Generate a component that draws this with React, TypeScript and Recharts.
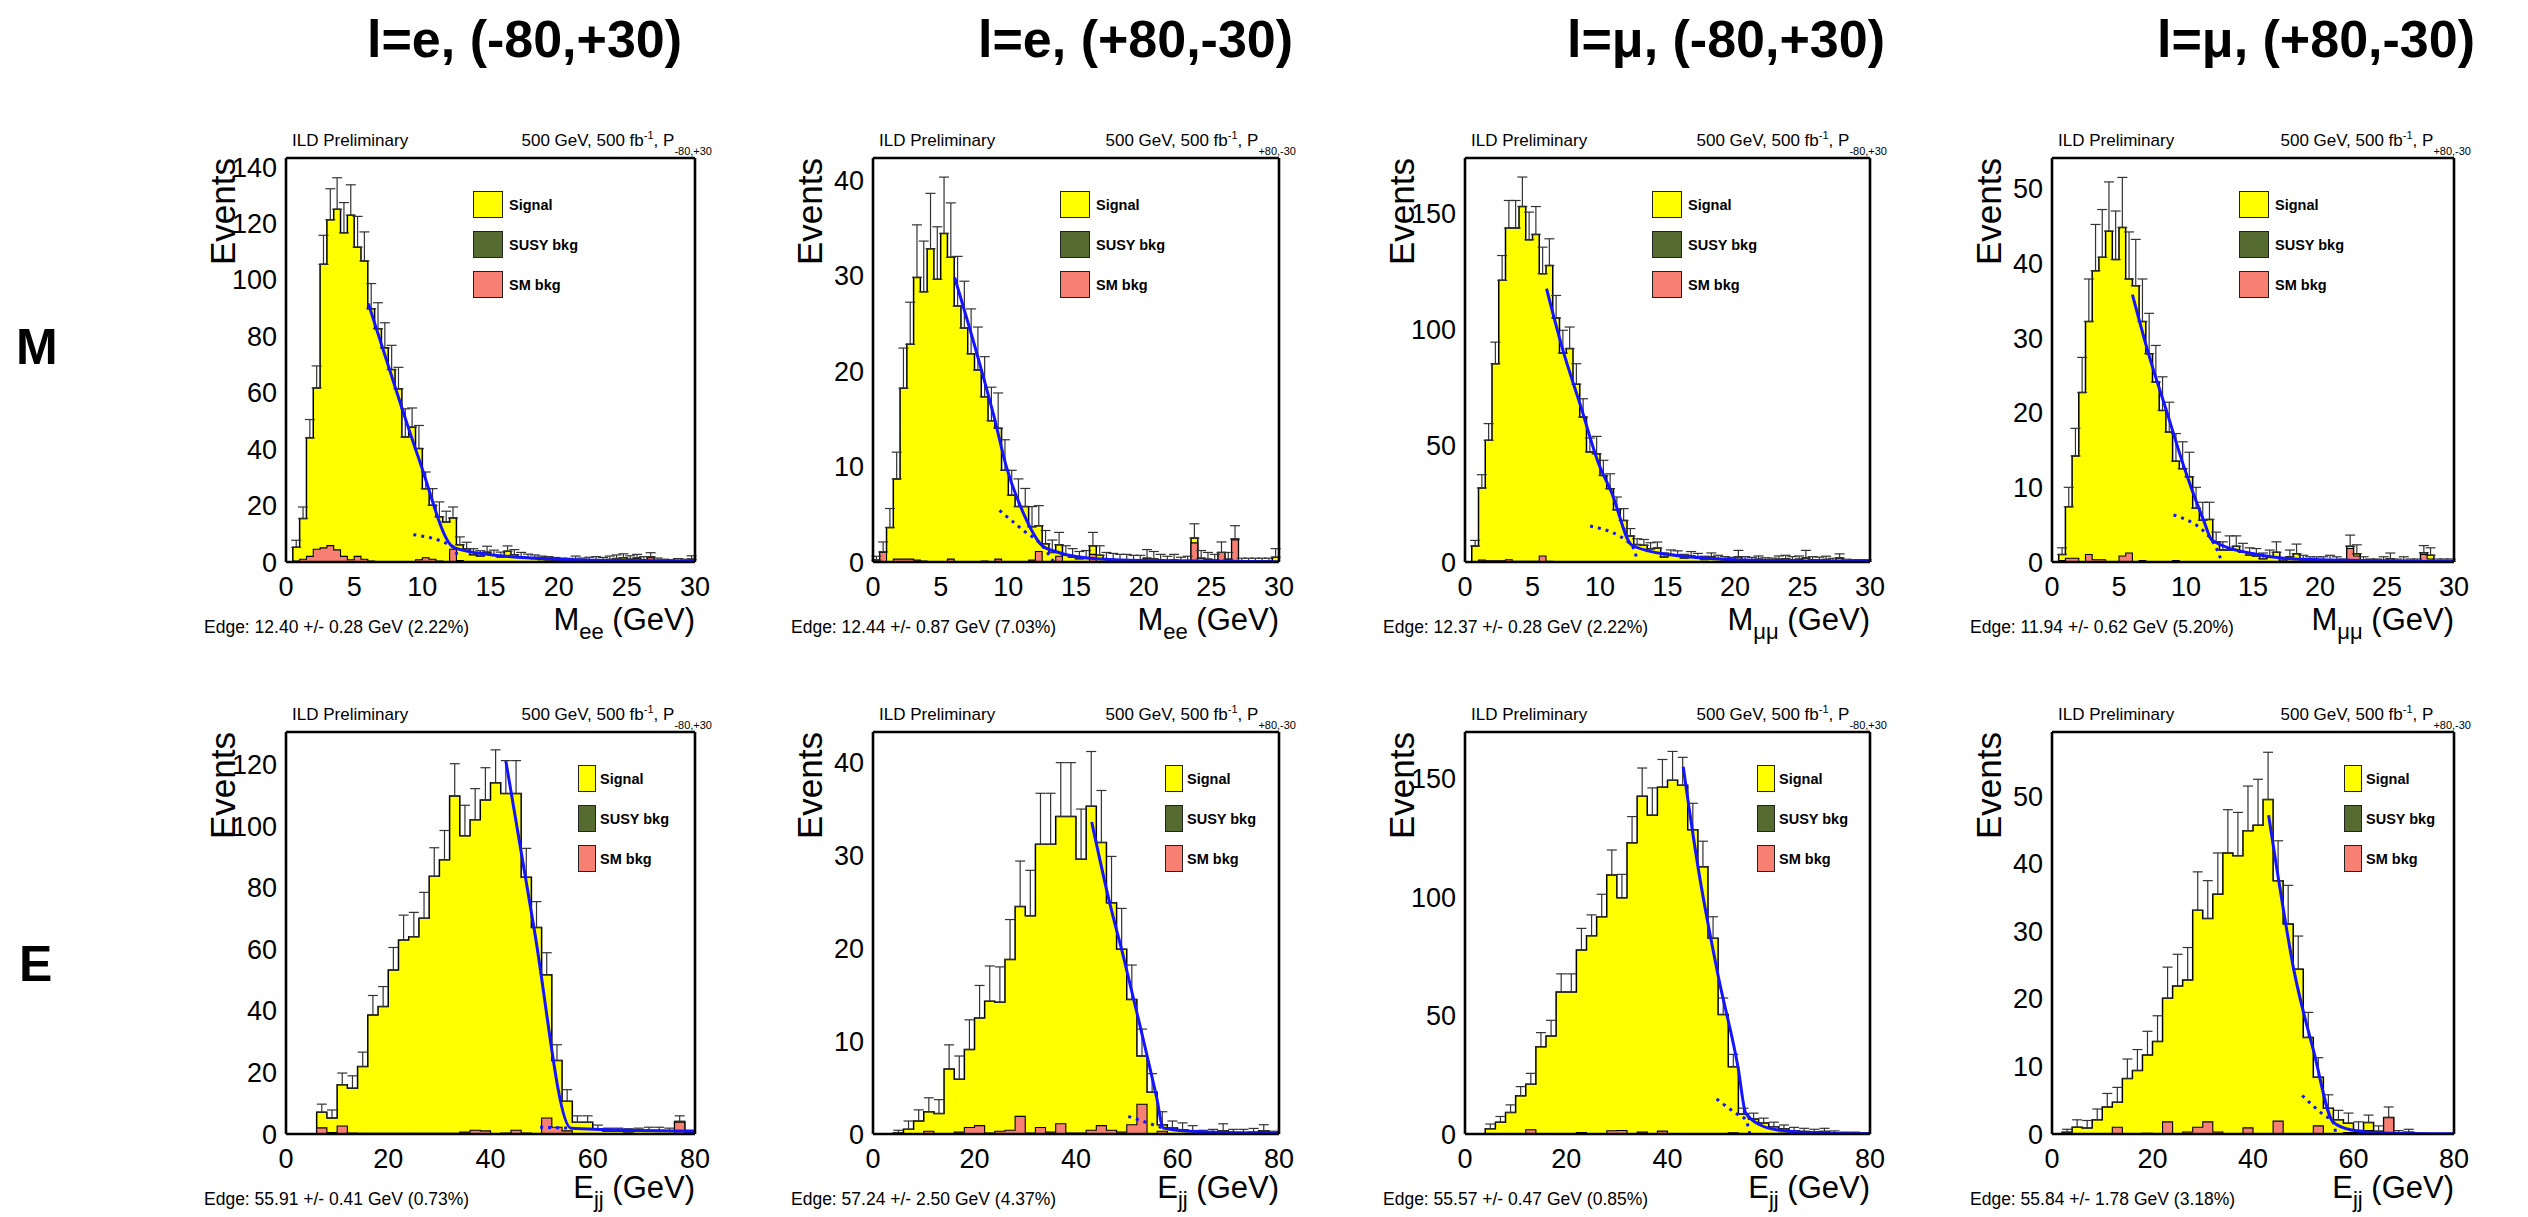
import React from "react";
import { ComposedChart, Area, Line, Scatter, ErrorBar, XAxis, YAxis } from "recharts";

// ---------- axis ticks ----------
const M_TICKS = [0, 5, 10, 15, 20, 25, 30];
const E_TICKS = [0, 20, 40, 60, 80];
const Y_140 = [0, 20, 40, 60, 80, 100, 120, 140];
const Y_120 = [0, 20, 40, 60, 80, 100, 120];
const Y_40 = [0, 10, 20, 30, 40];
const Y_50 = [0, 10, 20, 30, 40, 50];
const Y_150 = [0, 50, 100, 150];

// ---------- M panels: 60 bins of 0.5 GeV (stack top, SM bkg, error bar top) ----------
const mee_m80_total = [
  0, 5.2, 15.4, 44, 61.7, 105.5, 121.3, 125, 116.7, 122.9,
  111.6, 106.7, 89.8, 82.7, 75.9, 68.2, 61.4, 44.3, 47.8, 40.2,
  26, 20.1, 16, 14.2, 15.6, 6.1, 4.7, 2.6, 2.1, 3.5,
  2.4, 1.8, 3.8, 2.6, 1.8, 1.4, 1.2, 0.9, 0.8, 0.6,
  0.5, 0.4, 0.9, 0.5, 0.7, 0.8, 0.6, 0.9, 1.2, 1.5,
  1.0, 1.4, 0.8, 1.8, 0.5, 0.3, 0.2, 0.4, 0.3, 1.0,
];
const mee_m80_sm = [
  0, 0.3, 1.0, 2.0, 4.5, 5.0, 5.8, 4.3, 2.0, 0.8,
  2.0, 1.0, 0.3, 0, 0, 0, 0, 0, 0, 0.8,
  1.5, 1.0, 0.3, 0, 4.5, 0.5, 0, 0, 0, 0,
  0, 0, 0, 0, 0, 0, 0, 0, 0, 0,
  0, 0, 0, 0, 0, 0, 0, 0, 0, 0,
  0, 1.2, 0, 1.5, 0, 0, 0, 0, 0, 0,
];
const mee_m80_err = [
  null, 7.7, 19.5, 50.5, 69.5, 115.8, 132.3, 136.2, 127.4, 133.7,
  122.5, 117, 98.7, 91.9, 84.8, 76.8, 69, 54.3, 54.6, 48.4,
  31.9, 26, 21.3, 18, 19.5, 8.9, 7, 4.7, 4.0, 5.6,
  4.2, 3.5, 5.7, 4.4, 3.4, 2.8, 2.5, 2.1, 1.9, 1.6,
  1.4, 1.3, 2.1, 1.4, 1.7, 1.9, 1.6, 2.1, 2.5, 2.9,
  2.2, 2.7, 1.9, 3.3, 1.4, 1.0, 0.8, 1.2, 1.0, 2.2,
];
const mee_m80_fit = [[6.04, 91.6], [8.36, 56.7], [9.83, 35.4], [12.32, 5.1], [15, 2.6], [20, 1.0], [25, 0.5], [30, 0.25]];
const mee_m80_bkg = [[9.34, 9.7], [12.27, 5.3], [12.64, 1.2]];

const mee_p80_total = [
  0.2, 1.05, 3.6, 8.7, 18.2, 22.8, 29.8, 28.3, 32.8, 29.6,
  34.4, 31.9, 26.8, 24.5, 21.8, 20.1, 17.3, 14.8, 14.0, 9.6,
  7.0, 5.8, 5.8, 3.7, 3.8, 1.9, 1.0, 1.8, 0.7, 0.5,
  0.35, 0.4, 1.7, 0.7, 0.3, 0.25, 0.2, 0.2, 0.15, 0.15,
  0.4, 0.35, 0.2, 0.15, 0.2, 0.1, 0.15, 2.5, 0.4, 0.3,
  0.2, 1.0, 0.3, 2.4, 0.1, 0.1, 0.1, 0.1, 0.1, 0.5,
];
const mee_p80_sm = [
  0, 1.0, 0, 0.3, 0.3, 0.3, 0.2, 0.1, 0, 0,
  0, 0.3, 0, 0, 0, 0, 0.1, 0, 0.3, 0,
  0, 0, 0, 0.2, 1.1, 0, 0, 0.6, 0, 0,
  0, 0, 0.8, 0, 0, 0, 0, 0, 0, 0,
  0, 0, 0, 0, 0, 0, 0, 2.0, 0, 0,
  0, 1.0, 0, 2.3, 0, 0, 0, 0, 0, 0,
];
const mee_p80_err = [
  0.6, 2.1, 5.6, 11.5, 22.4, 27.2, 35.3, 33.6, 38.6, 35.1,
  40.3, 37.6, 32, 29.4, 26.5, 24.6, 21.5, 18.3, 17.7, 12.8,
  9.6, 8.7, 7.7, 5.8, 5.9, 3.3, 2.3, 3.1, 1.7, 1.4,
  1.1, 1.2, 3.1, 1.7, 1.0, 0.9, 0.8, 0.8, 0.7, 0.7,
  1.3, 1.1, 0.8, 0.6, 0.8, 0.5, 0.6, 4.0, 1.2, 1.0,
  0.8, 2.1, 1.0, 3.8, 0.4, 0.4, 0.4, 0.4, 0.4, 1.4,
];
const mee_p80_fit = [[6.03, 29.8], [7.68, 21.8], [8.91, 15.4], [9.89, 9.8], [11.12, 5.1], [12.48, 1.75], [13.6, 1.05], [16, 0.4], [20, 0.15], [30, 0.03]];
const mee_p80_bkg = [[9.35, 5.4], [11.12, 3.3], [12.48, 1.75], [13.34, 0]];

const mmm_m80_total = [
  0, 6.9, 31.9, 52.4, 85.4, 121.3, 143.8, 143.8, 153.1, 138.8,
  141.1, 124.2, 127.7, 105.1, 90, 91.9, 76.6, 62.4, 47.4, 46.6,
  37.3, 31.6, 22.5, 17.9, 11.2, 7.5, 7.2, 5.7, 6.0, 2.2,
  3.2, 2.9, 1.7, 2.6, 2.0, 1.1, 2.2, 1.4, 1.0, 0.8,
  2.2, 1.0, 0.8, 1.2, 0.7, 0.6, 1.2, 1.4, 1.0, 1.2,
  1.7, 1.0, 0.9, 1.1, 0.6, 1.7, 0.4, 0.3, 0.3, 0.3,
];
const mmm_m80_sm = [
  0, 0, 0.8, 0.5, 0.5, 0.5, 1.0, 0.3, 0.3, 0.3,
  0.3, 2.6, 0.3, 0, 0, 0, 0, 0, 0, 0,
  0, 0, 0, 0, 0, 0, 0, 0, 0, 0,
  0, 0, 0, 0, 0, 0, 0, 0, 0, 0,
  0, 0, 0, 0, 0, 0, 0, 0, 0, 0,
  0, 0, 0, 0, 0, 1.5, 0, 0, 0, 0,
];
const mmm_m80_err = [
  null, 9.3, 37.6, 59.6, 94.7, 132, 155.7, 155.7, 165.8, 150.7,
  153.1, 135.6, 139.2, 114.8, 99.8, 101.2, 85.4, 70.3, 53.4, 54.1,
  43.8, 38, 28, 23, 14.4, 10, 9.7, 8.3, 8.6, 3.9,
  5.2, 4.8, 3.3, 4.5, 3.7, 2.5, 3.9, 2.9, 2.3, 2,
  5, 2.3, 2.0, 2.6, 1.8, 1.7, 2.6, 2.9, 2.3, 2.6,
  5.0, 2.3, 2.1, 2.5, 1.6, 3.5, 1.2, 1.0, 1.0, 1.0,
];
const mmm_m80_fit = [[6.04, 117.7], [7.15, 93.3], [8.63, 66], [9.86, 43], [10.85, 30.1], [12.37, 7.2], [15.04, 3.2], [20, 1.0], [25, 0.45], [30, 0.2]];
const mmm_m80_bkg = [[9.27, 15.5], [12.32, 7.5], [12.8, 0]];

const mmm_p80_total = [
  0, 1.0, 7.4, 14.2, 22.7, 32.2, 39.0, 40.8, 44.3, 40.5,
  44.8, 37.9, 37.0, 32.2, 27.9, 24.1, 20.3, 17.4, 13.5, 12.5,
  11.4, 7.2, 5.6, 5.7, 2.7, 1.6, 1.6, 2.1, 1.3, 0.9,
  0.8, 0.45, 0.7, 1.3, 0.1, 0.7, 1.1, 0.3, 0.2, 0.2,
  0.2, 0.3, 0.2, 0.1, 2.1, 1.1, 0.2, 0.1, 0.1, 0.2,
  0.45, 0.1, 0.2, 0.1, 0.1, 1.25, 0.9, 0.1, 0.1, 0.1,
];
const mmm_p80_sm = [
  0, 0.2, 0.5, 0.5, 0, 1.0, 0.3, 0.3, 0, 0,
  0.8, 1.2, 0, 0.2, 0, 0, 0, 0, 0.2, 0,
  0, 0, 0, 0, 0, 0, 0, 0, 0, 0,
  0, 0, 0, 0, 0, 0, 0, 0, 0, 0,
  0, 0, 0, 0, 1.8, 0.8, 0, 0, 0, 0,
  0, 0, 0, 0, 0, 1.0, 0.4, 0, 0, 0,
];
const mmm_p80_err = [
  null, 1.9, 10, 17.9, 27.4, 37.9, 45.2, 47.2, 50.9, 47,
  51.5, 44.2, 43.2, 37.9, 33.3, 29, 24.8, 21.4, 17.2, 16.1,
  14.7, 10, 8, 8, 4, 2.7, 3.5, 3.5, 2.5, 1.9,
  1.8, 1.2, 1.6, 2.7, 0.4, 1.6, 2.4, 0.9, 0.7, 0.7,
  0.7, 0.9, 0.7, 0.4, 3.6, 2.3, 0.7, 0.4, 0.4, 0.7,
  1.2, 0.4, 0.7, 0.4, 0.4, 2.2, 1.9, 0.4, 0.4, 0.4,
];
const mmm_p80_fit = [[6.0, 35.8], [7.2, 27.9], [8.57, 20.1], [9.82, 12.9], [11.31, 5.6], [11.94, 2.9], [15.05, 1.1], [18.5, 0.36], [30, 0.05]];
const mmm_p80_bkg = [[9.07, 6.3], [11.94, 2.9], [12.68, 0]];

// ---------- E panels: 40 bins of 2 GeV ----------
const ejj_e_m80_total = [
  0, 0, 0, 7.1, 5.2, 16, 14.9, 21.9, 38.7, 41.4,
  53.3, 63, 64.1, 70.1, 83.7, 89.1, 109.8, 96.9, 102.1, 108.5,
  114.1, 110.6, 110.6, 83.4, 67.1, 51.7, 23.9, 10.6, 3.8, 3.8,
  1.6, 0.9, 0.9, 0.7, 0.9, 1.1, 1.1, 0.9, 4.1, 0.5,
];
const ejj_e_m80_sm = [
  0, 0, 0, 2.0, 0.5, 2.6, 0.3, 0.2, 0.2, 0.2,
  0.2, 0.2, 0.2, 0.2, 0.2, 0.2, 0.2, 0.6, 1.2, 1.0,
  0.1, 0.3, 1.2, 0.3, 0, 5.2, 2.2, 1.0, 0, 0,
  0, 0, 0, 0, 0, 0, 0, 0, 3.8, 0,
];
const ejj_e_m80_err = [
  null, null, null, 9.7, 7.8, 19.8, 18.9, 26.6, 45, 47.9,
  60.6, 71.1, 72, 78.5, 93, 98.6, 120.3, 106.8, 112.2, 119,
  124.8, 121.3, 121.3, 92.8, 75.5, 58.9, 29, 14.4, 5.9, 5.9,
  2.9, 1.9, 1.9, 1.7, 1.9, 2.2, 2.2, 1.9, 5.9, 1.2,
];
const ejj_e_m80_fit = [[43.0, 121.2], [48.4, 68], [55.74, 1.9], [80, 0.9]];
const ejj_e_m80_bkg = [[49.7, 2.2], [55.7, 1.9]];

const ejj_e_p80_total = [
  0, 0, 0.1, 0.5, 1.4, 2.4, 2.2, 7.0, 5.9, 9.1,
  12.5, 14.3, 14.2, 18.8, 24.5, 23.5, 31.2, 31.2, 34.2, 34.2,
  29.6, 35.3, 31.4, 24.9, 19.9, 14.5, 8.4, 4.5, 1.0, 0.65,
  0.45, 0.3, 0.1, 0.15, 0.35, 0.15, 0.15, 0.2, 0.35, 0.1,
];
const ejj_e_p80_sm = [
  0, 0, 0, 0, 0, 0.3, 0, 0, 0.2, 0.7,
  0.9, 0.1, 0.3, 0.4, 1.9, 0.1, 0.7, 0.2, 1.1, 0.1,
  0.1, 0.4, 0.9, 0.4, 0.2, 1.0, 3.2, 0, 0.3, 0,
  0, 0, 0, 0, 0, 0, 0, 0, 0.3, 0,
];
const ejj_e_p80_err = [
  null, null, 0.4, 1.4, 2.6, 3.9, 3.7, 9.6, 8.4, 12.3,
  16, 18.1, 18, 23.1, 29.4, 28.4, 36.7, 36.7, 40, 40,
  35, 41.2, 37, 29.9, 24.3, 18.2, 11.3, 6.5, 2.4, 1.4,
  1.2, 0.9, 0.4, 0.5, 1.1, 0.5, 0.5, 0.6, 1.0, 0.3,
];
const ejj_e_p80_fit = [[43.1, 33.6], [46.7, 24.75], [49.3, 19.2], [52.6, 11.7], [55.9, 3.9], [57.2, 0.64], [62.5, 0.3], [80, 0.07]];
const ejj_e_p80_bkg = [[50.3, 1.9], [55.2, 1.0], [57.2, 0.64]];

const ejj_m_m80_total = [
  0, 0, 2.2, 5.0, 9.1, 16.1, 21.0, 36.8, 41.4, 59.9,
  59.9, 77.7, 83.7, 91.7, 109.3, 99.7, 122.9, 142.6, 134.6, 146.4,
  149.3, 147.2, 128.4, 112.8, 82.6, 50.4, 28.4, 8.4, 6.3, 4.6,
  3.1, 2.2, 1.4, 1.1, 0.8, 1.1, 0.4, 0.2, 0.2, 0.1,
];
const ejj_m_m80_sm = [
  0, 0, 0, 0, 0, 0, 1.8, 0, 0, 0,
  0, 0.6, 0, 0, 1.4, 1.5, 0, 0.8, 0, 1.2,
  0, 0, 0, 0, 0, 0, 0.5, 0, 0, 0,
  0, 0.3, 0, 0, 0, 0, 0, 0, 0, 0,
];
const ejj_m_m80_err = [
  null, null, 4.2, 7.4, 12.3, 20, 25.6, 42.8, 48, 67.6,
  67.6, 86.8, 92.5, 101.2, 119.9, 109.6, 134, 154.5, 146.1, 158.1,
  161.5, 159, 139.6, 123.6, 91.7, 57.4, 33.6, 10.9, 8.8, 6.7,
  5.0, 3.8, 2.8, 2.4, 2.0, 2.4, 1.3, 0.8, 0.8, 0.5,
];
const ejj_m_m80_fit = [[43.1, 155], [46.05, 112.4], [50, 66.9], [53.95, 28], [55.46, 8.8], [58.55, 3.6], [61.8, 1.7], [68.4, 0.56], [80, 0.1]];
const ejj_m_m80_bkg = [[49.7, 14.8], [53.95, 8.1], [55.46, 6], [56.25, 0]];

const ejj_m_p80_total = [
  0, 0.25, 1.0, 0.9, 2.1, 4.0, 4.7, 8.2, 9.4, 11.7,
  13.7, 20.1, 21.9, 22.8, 33.1, 31.9, 35.5, 41.6, 41.2, 44.9,
  45.7, 49.5, 37.5, 31.1, 24.4, 14.3, 8.4, 3.8, 2.1, 1.6,
  0.5, 1.7, 0.4, 2.45, 0.1, 0.25, 0, 0, 0, 0,
];
const ejj_m_p80_sm = [
  0, 0, 0, 0, 0, 0, 1.0, 0, 0, 0.1,
  0, 1.8, 0, 0.3, 1.0, 1.8, 0.3, 0, 0, 0.9,
  0, 0, 1.9, 0, 0, 0, 1.2, 0, 0, 0.2,
  0.2, 0.5, 0, 2.4, 0, 0, 0, 0, 0, 0,
];
const ejj_m_p80_err = [
  null, 0.7, 2.1, 2.0, 3.7, 6.0, 6.9, 11.1, 12.5, 15.2,
  17.5, 24.7, 26.6, 27.6, 38.8, 37.5, 41.6, 48, 47.6, 51.5,
  52.5, 56.5, 43.4, 36.8, 29.3, 18, 11.3, 5.8, 3.5, 3.1,
  1.8, 2.8, 1.2, 4.0, 0.5, 0.7, null, null, null, null,
];
const ejj_m_p80_fit = [[43.1, 47.2], [45.1, 37.6], [48.1, 24.4], [52.1, 12.2], [55.95, 1.76], [59.4, 0.64], [66, 0.15], [80, 0.02]];
const ejj_m_p80_bkg = [[49.8, 5.7], [54.1, 2.8], [55.95, 1.76], [56.5, 0]];

const COL_TITLES = ["l=e, (-80,+30)", "l=e, (+80,-30)", "l=μ, (-80,+30)", "l=μ, (+80,-30)"];
const POLS = ["-80,+30", "+80,-30", "-80,+30", "+80,-30"];
const EDGES = [
  "Edge: 12.40 +/- 0.28 GeV (2.22%)", "Edge: 12.44 +/- 0.87 GeV (7.03%)",
  "Edge: 12.37 +/- 0.28 GeV (2.22%)", "Edge: 11.94 +/- 0.62 GeV (5.20%)",
  "Edge: 55.91 +/- 0.41 GeV (0.73%)", "Edge: 57.24 +/- 2.50 GeV (4.37%)",
  "Edge: 55.57 +/- 0.47 GeV (0.85%)", "Edge: 55.84 +/- 1.78 GeV (3.18%)",
];

// ---------- layout ----------
const COL_X = [286, 873, 1465, 2052];
const COL_W = [409, 406, 405, 402];
const ROW_Y = [158, 732];
const ROW_H = [404, 402];
const TITLE_X = [367, 978, 1567, 2157];

const YELLOW = "#ffff00";
const SALMON = "#f88072";
const OLIVE = "#556b2f";
const BLUE = "#1414ff";
const FONT = '"Liberation Sans", Arial, Helvetica, sans-serif';

type Pt = number[];
interface Cfg {
  col: number; row: number; binW: number; xMax: number; xTicks: number[]; xMinor: number;
  yMax: number; yTicks: number[]; yMinor: number;
  total: number[]; sm: number[]; err: (number | null)[]; fit: Pt[]; bkg: Pt[];
  sub: string; edge: string;
}

const steps = (max: number, step: number) =>
  Array.from({ length: Math.floor(max / step + 1e-6) + 1 }, (_, i) => +(i * step).toFixed(3));

const PANELS: Cfg[] = [
  { col: 0, row: 0, binW: 0.5, xMax: 30, xTicks: M_TICKS, xMinor: 1, yMax: 143.2, yTicks: Y_140, yMinor: 5, total: mee_m80_total, sm: mee_m80_sm, err: mee_m80_err, fit: mee_m80_fit, bkg: mee_m80_bkg, sub: "ee", edge: EDGES[0] },
  { col: 1, row: 0, binW: 0.5, xMax: 30, xTicks: M_TICKS, xMinor: 1, yMax: 42.3, yTicks: Y_40, yMinor: 2, total: mee_p80_total, sm: mee_p80_sm, err: mee_p80_err, fit: mee_p80_fit, bkg: mee_p80_bkg, sub: "ee", edge: EDGES[1] },
  { col: 2, row: 0, binW: 0.5, xMax: 30, xTicks: M_TICKS, xMinor: 1, yMax: 174, yTicks: Y_150, yMinor: 10, total: mmm_m80_total, sm: mmm_m80_sm, err: mmm_m80_err, fit: mmm_m80_fit, bkg: mmm_m80_bkg, sub: "μμ", edge: EDGES[2] },
  { col: 3, row: 0, binW: 0.5, xMax: 30, xTicks: M_TICKS, xMinor: 1, yMax: 54.1, yTicks: Y_50, yMinor: 2, total: mmm_p80_total, sm: mmm_p80_sm, err: mmm_p80_err, fit: mmm_p80_fit, bkg: mmm_p80_bkg, sub: "μμ", edge: EDGES[3] },
  { col: 0, row: 1, binW: 2, xMax: 80, xTicks: E_TICKS, xMinor: 4, yMax: 130.6, yTicks: Y_120, yMinor: 5, total: ejj_e_m80_total, sm: ejj_e_m80_sm, err: ejj_e_m80_err, fit: ejj_e_m80_fit, bkg: ejj_e_m80_bkg, sub: "jj", edge: EDGES[4] },
  { col: 1, row: 1, binW: 2, xMax: 80, xTicks: E_TICKS, xMinor: 4, yMax: 43.3, yTicks: Y_40, yMinor: 2, total: ejj_e_p80_total, sm: ejj_e_p80_sm, err: ejj_e_p80_err, fit: ejj_e_p80_fit, bkg: ejj_e_p80_bkg, sub: "jj", edge: EDGES[5] },
  { col: 2, row: 1, binW: 2, xMax: 80, xTicks: E_TICKS, xMinor: 4, yMax: 169.7, yTicks: Y_150, yMinor: 10, total: ejj_m_m80_total, sm: ejj_m_m80_sm, err: ejj_m_m80_err, fit: ejj_m_m80_fit, bkg: ejj_m_m80_bkg, sub: "jj", edge: EDGES[6] },
  { col: 3, row: 1, binW: 2, xMax: 80, xTicks: E_TICKS, xMinor: 4, yMax: 59.5, yTicks: Y_50, yMinor: 2, total: ejj_m_p80_total, sm: ejj_m_p80_sm, err: ejj_m_p80_err, fit: ejj_m_p80_fit, bkg: ejj_m_p80_bkg, sub: "jj", edge: EDGES[7] },
];

function histRows(binW: number, total: number[], sm: number[]) {
  const rows = total.map((t, i) => ({ x: i * binW, total: t, sm: sm[i] }));
  rows.push({ x: total.length * binW, total: total[total.length - 1], sm: sm[sm.length - 1] });
  return rows;
}

function errRows(binW: number, total: number[], err: (number | null)[]) {
  const out: { x: number; y: number; err: number[] }[] = [];
  total.forEach((t, i) => {
    const e = err[i];
    if (e != null && e > t) out.push({ x: (i + 0.5) * binW, y: t, err: [0, e - t] });
  });
  return out;
}

const toXY = (pts: Pt[]) => pts.map(([x, y]) => ({ x, y }));

const noShape = () => <g />;

const M_LEFT = 90, M_TOP = 12, M_RIGHT = 34, M_BOTTOM = 50;

function Histo({ p }: { p: Cfg }) {
  const px = COL_X[p.col], py = ROW_Y[p.row], pw = COL_W[p.col], ph = ROW_H[p.row];
  const rows = histRows(p.binW, p.total, p.sm);
  const errs = errRows(p.binW, p.total, p.err);
  const xDom = [0, p.xMax];
  const yDom = [0, p.yMax];
  const xMin = steps(p.xMax, p.xMinor);
  const yMin = steps(p.yMax, p.yMinor);
  const frame = { stroke: "#000", strokeWidth: 2.6 };
  const major = { stroke: "#000", strokeWidth: 2.4 };
  const minor = { stroke: "#000", strokeWidth: 1.8 };
  const lbl = { fontSize: 27, fill: "#000" };
  const common = { type: "number" as const, allowDataOverflow: true, interval: 0 as const };

  return (
    <div style={{ position: "absolute", left: px - M_LEFT, top: py - M_TOP }}>
      <ComposedChart width={M_LEFT + pw + M_RIGHT} height={M_TOP + ph + M_BOTTOM} data={rows}
        margin={{ top: M_TOP, right: M_RIGHT, left: M_LEFT - 80, bottom: M_BOTTOM - 40 }}>
        <XAxis xAxisId="x" dataKey="x" {...common} domain={xDom} ticks={p.xTicks} tickLine={false}
          axisLine={false} tickSize={0} tickMargin={15} height={40} tick={lbl} />
        <XAxis xAxisId="xb" {...common} domain={xDom} ticks={p.xTicks} mirror tick={false}
          tickSize={12} tickLine={major} axisLine={frame} />
        <XAxis xAxisId="xbm" {...common} domain={xDom} ticks={xMin} mirror tick={false}
          tickSize={6} tickLine={minor} axisLine={false} />
        <XAxis xAxisId="xt" orientation="top" {...common} domain={xDom} ticks={p.xTicks} mirror
          tick={false} tickSize={12} tickLine={major} axisLine={frame} />
        <XAxis xAxisId="xtm" orientation="top" {...common} domain={xDom} ticks={xMin} mirror
          tick={false} tickSize={6} tickLine={minor} axisLine={false} />
        <YAxis yAxisId="y" {...common} domain={yDom} ticks={p.yTicks} tickLine={false}
          axisLine={false} tickSize={0} tickMargin={9} width={80} tick={lbl} />
        <YAxis yAxisId="yl" {...common} domain={yDom} ticks={p.yTicks} mirror tick={false}
          tickSize={13} tickLine={major} axisLine={frame} />
        <YAxis yAxisId="ylm" {...common} domain={yDom} ticks={yMin} mirror tick={false}
          tickSize={6} tickLine={minor} axisLine={false} />
        <YAxis yAxisId="yr" orientation="right" {...common} domain={yDom} ticks={p.yTicks} mirror
          tick={false} tickSize={13} tickLine={major} axisLine={frame} />
        <YAxis yAxisId="yrm" orientation="right" {...common} domain={yDom} ticks={yMin} mirror
          tick={false} tickSize={6} tickLine={minor} axisLine={false} />

        <Area xAxisId="x" yAxisId="y" type="stepAfter" dataKey="total" fill={YELLOW} fillOpacity={1}
          stroke="#000" strokeWidth={1.5} dot={false} activeDot={false} isAnimationActive={false} />
        <Area xAxisId="x" yAxisId="y" type="stepAfter" dataKey="sm" fill={SALMON} fillOpacity={1}
          stroke="#000" strokeWidth={1.1} dot={false} activeDot={false} isAnimationActive={false} />
        <Scatter xAxisId="x" yAxisId="y" data={errs} dataKey="y" shape={noShape} isAnimationActive={false}>
          <ErrorBar dataKey="err" direction="y" width={5} stroke="#333" strokeWidth={1.2}
            isAnimationActive={false} />
        </Scatter>
        <Line xAxisId="x" yAxisId="y" data={toXY(p.bkg)} dataKey="y" type="monotone" stroke={BLUE}
          strokeWidth={3} strokeDasharray="3 5" dot={false} activeDot={false} isAnimationActive={false} />
        <Line xAxisId="x" yAxisId="y" data={toXY(p.fit)} dataKey="y" type="monotone" stroke={BLUE}
          strokeWidth={3} dot={false} activeDot={false} isAnimationActive={false} />
      </ComposedChart>
    </div>
  );
}

function Overlay({ p }: { p: Cfg }) {
  const px = COL_X[p.col], py = ROW_Y[p.row], pw = COL_W[p.col], ph = ROW_H[p.row];
  const isM = p.row === 0;
  const boxL = isM ? 187 : 292;
  const boxW = isM ? 30 : 18;
  const textL = isM ? 223 : 314;
  const legend = [
    { name: "Signal", color: YELLOW },
    { name: "SUSY bkg", color: OLIVE },
    { name: "SM bkg", color: SALMON },
  ];
  const abs = (s: React.CSSProperties): React.CSSProperties => ({ position: "absolute", whiteSpace: "nowrap", ...s });
  return (
    <>
      <div style={abs({ left: px + 6, top: py - 27, fontSize: 17, lineHeight: "20px" })}>ILD Preliminary</div>
      <div style={abs({ left: px + pw + 17, top: py - 27, fontSize: 17, lineHeight: "20px", transform: "translateX(-100%)" })}>
        500 GeV, 500 fb<span style={{ fontSize: 11, position: "relative", top: -7 }}>-1</span>, P
        <span style={{ fontSize: 11, position: "relative", top: 9 }}>{POLS[p.col]}</span>
      </div>
      {legend.map((e, i) => (
        <React.Fragment key={e.name}>
          <div style={abs({ left: px + boxL, top: py + 47 + 40 * i - 14, width: boxW, height: 27,
            background: e.color, border: "1.5px solid #222", boxSizing: "border-box" })} />
          <div style={abs({ left: px + textL, top: py + 47 + 40 * i - 10, fontSize: 14.5, fontWeight: 700, lineHeight: "20px" })}>
            {e.name}
          </div>
        </React.Fragment>
      ))}
      <div style={abs({ left: px - 81, top: py + 200, width: 200, textAlign: "right", fontSize: 35,
        lineHeight: "35px", transform: "rotate(-90deg)", transformOrigin: "0 0" })}>Events</div>
      <div style={abs({ left: px + pw, top: py + ph + (isM ? 42 : 38), fontSize: 31, lineHeight: "31px",
        transform: "translateX(-100%)" })}>
        {isM ? "M" : "E"}
        <span style={{ fontSize: 22, position: "relative", top: 9 }}>{p.sub}</span> (GeV)
      </div>
      <div style={abs({ left: px - 82, top: py + ph + 55, fontSize: 17.5, lineHeight: "20px" })}>{p.edge}</div>
    </>
  );
}

export default function App() {
  return (
    <div style={{ position: "absolute", left: 0, top: 0, width: 2528, height: 1217, background: "#fff",
      fontFamily: FONT, color: "#000", overflow: "hidden" }}>
      {COL_TITLES.map((t, i) => (
        <div key={t + i} style={{ position: "absolute", left: TITLE_X[i], top: 13, fontSize: 52,
          fontWeight: 700, lineHeight: "52px", whiteSpace: "nowrap" }}>{t}</div>
      ))}
      <div style={{ position: "absolute", left: 16, top: 322, fontSize: 50, fontWeight: 700, lineHeight: "50px" }}>M</div>
      <div style={{ position: "absolute", left: 19, top: 939, fontSize: 50, fontWeight: 700, lineHeight: "50px" }}>E</div>
      {PANELS.map((p, i) => <Histo key={"h" + i} p={p} />)}
      {PANELS.map((p, i) => <Overlay key={"o" + i} p={p} />)}
    </div>
  );
}
